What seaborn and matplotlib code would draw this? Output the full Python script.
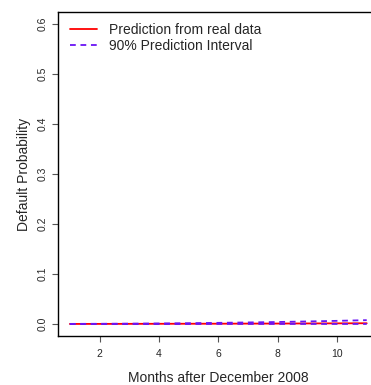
import matplotlib
matplotlib.use("Agg")
import matplotlib.pyplot as plt
import seaborn as sns
import pandas as pd

months = [1, 2, 3, 4, 5, 6, 7, 8, 9, 10, 11]
prediction = [0.0001, 0.0002, 0.0003, 0.0004, 0.0005, 0.0006, 0.0008, 0.0009, 0.0011, 0.0013, 0.0015]
upper_90 = [0.0002, 0.0004, 0.0007, 0.0011, 0.0016, 0.0023, 0.0031, 0.0040, 0.0051, 0.0063, 0.0077]
lower_90 = [0.0000, 0.0000, 0.0000, 0.0000, 0.0000, 0.0001, 0.0001, 0.0001, 0.0001, 0.0001, 0.0001]
x_ticks = [2, 4, 6, 8, 10]
y_ticks = [0.0, 0.1, 0.2, 0.3, 0.4, 0.5, 0.6]

sns.set_theme(style="white")
plt.rcParams["font.family"] = ["Liberation Sans", "DejaVu Sans"]

df = pd.DataFrame({"month": months, "pred": prediction,
                   "upper": upper_90, "lower": lower_90})

fig = plt.figure(figsize=(3.71, 3.85), dpi=100)
ax = fig.add_axes([58 / 371, 49 / 385, 320.6 / 371, 324 / 385])

violet = "#6A14F5"
dash = (0, (3.2, 2.6))
sns.lineplot(data=df, x="month", y="pred", ax=ax, color="#FF0000", lw=1.3,
             label="Prediction from real data")
sns.lineplot(data=df, x="month", y="upper", ax=ax, color=violet, lw=1.3,
             label="90% Prediction Interval")
sns.lineplot(data=df, x="month", y="lower", ax=ax, color=violet, lw=1.3,
             legend=False)
ax.lines[1].set_linestyle(dash)
ax.lines[2].set_linestyle(dash)

ax.set_xlim(0.6, 11.4)
ax.set_ylim(-0.024, 0.624)
ax.set_xticks(x_ticks)
ax.set_xticklabels([str(v) for v in x_ticks], fontsize=7.5)
ax.set_yticks(y_ticks)
ax.set_yticklabels([f"{v:.1f}" for v in y_ticks], fontsize=7.5, rotation=90, va="center")
ax.tick_params(axis="both", direction="out", length=4.5, width=0.8, color="#555555",
               bottom=True, left=True)
ax.tick_params(axis="x", pad=5)
ax.tick_params(axis="y", pad=3)

for side in ["left", "bottom", "top", "right"]:
    ax.spines[side].set_color("black")
    ax.spines[side].set_linewidth(1.0)

ax.set_xlabel("Months after December 2008", fontsize=10, labelpad=8.5)
ax.set_ylabel("Default Probability", fontsize=10, labelpad=5)

leg = ax.legend(loc="upper left", bbox_to_anchor=(0.037, 0.966), frameon=False,
                fontsize=10, handlelength=1.95, handletextpad=0.86,
                labelspacing=0.13, borderaxespad=0.0, borderpad=0.0)
leg.get_lines()[1].set_linestyle(dash)

fig.savefig("out.png", dpi=100)
